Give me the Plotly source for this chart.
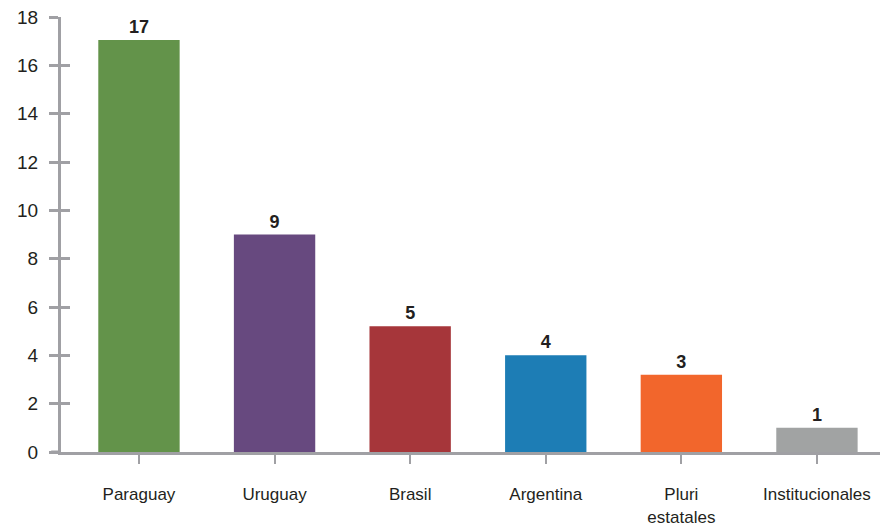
import plotly.graph_objects as go

categories = ["Paraguay", "Uruguay", "Brasil", "Argentina", "Pluri<br>estatales", "Institucionales"]
bar_heights = [17.05, 9.0, 5.2, 4.0, 3.2, 1.0]
value_labels = ["17", "9", "5", "4", "3", "1"]
colors = ["#63934A", "#67497F", "#A6363A", "#1D7DB5", "#F2662C", "#A1A3A3"]
y_ticks = [0, 2, 4, 6, 8, 10, 12, 14, 16, 18]

FONT = "Liberation Sans Narrow, Arial Narrow, Liberation Sans, Arial, sans-serif"
AXIS = "#A0A0A4"

fig = go.Figure()
fig.add_trace(go.Bar(
    x=list(range(len(categories))), y=bar_heights, text=value_labels,
    textposition="outside", cliponaxis=False,
    textfont=dict(family=FONT, size=18, color="#231F20", weight="bold"),
    marker=dict(color=colors, line=dict(width=0)), width=0.6,
))
# invisible trace on an overlay axis to give crossing ticks
fig.add_trace(go.Scatter(x=[0], y=[0], yaxis="y2", mode="markers",
                         marker=dict(opacity=0), hoverinfo="skip", showlegend=False))

fig.update_layout(
    width=890, height=526,
    margin=dict(l=53, r=18, t=9, b=82),
    paper_bgcolor="white", plot_bgcolor="white",
    showlegend=False,
    font=dict(family=FONT, color="#231F20"),
    xaxis=dict(
        range=[-0.575, 5.465], tickmode="array",
        tickvals=list(range(len(categories))), ticktext=categories,
        showline=True, linecolor=AXIS, linewidth=3,
        ticks="outside", ticklen=9, tickwidth=2, tickcolor=AXIS,
        tickfont=dict(family=FONT, size=17, color="#231F20"),
        showgrid=False, zeroline=False, ticklabelstandoff=16, automargin=False,
        ticklabeloverflow="allow",
    ),
    yaxis=dict(
        range=[0, 18], tickvals=y_ticks,
        showline=True, linecolor=AXIS, linewidth=3,
        ticks="outside", ticklen=9, tickwidth=3, tickcolor=AXIS,
        tickfont=dict(family=FONT, size=19, color="#231F20"),
        showgrid=False, zeroline=False, ticklabelstandoff=7, automargin=False,
        ticklabeloverflow="allow",
    ),
    yaxis2=dict(
        range=[0, 18], tickvals=y_ticks, overlaying="y", side="left",
        ticks="inside", ticklen=9, tickwidth=3, tickcolor=AXIS,
        showticklabels=False, showgrid=False, zeroline=False, showline=False,
        automargin=False,
    ),
    shapes=[dict(type="line", xref="paper", yref="paper", x0=-0.012, x1=0,
                 y0=0, y1=0, line=dict(color=AXIS, width=3), layer="below")],
)

fig.write_html("out.html")
